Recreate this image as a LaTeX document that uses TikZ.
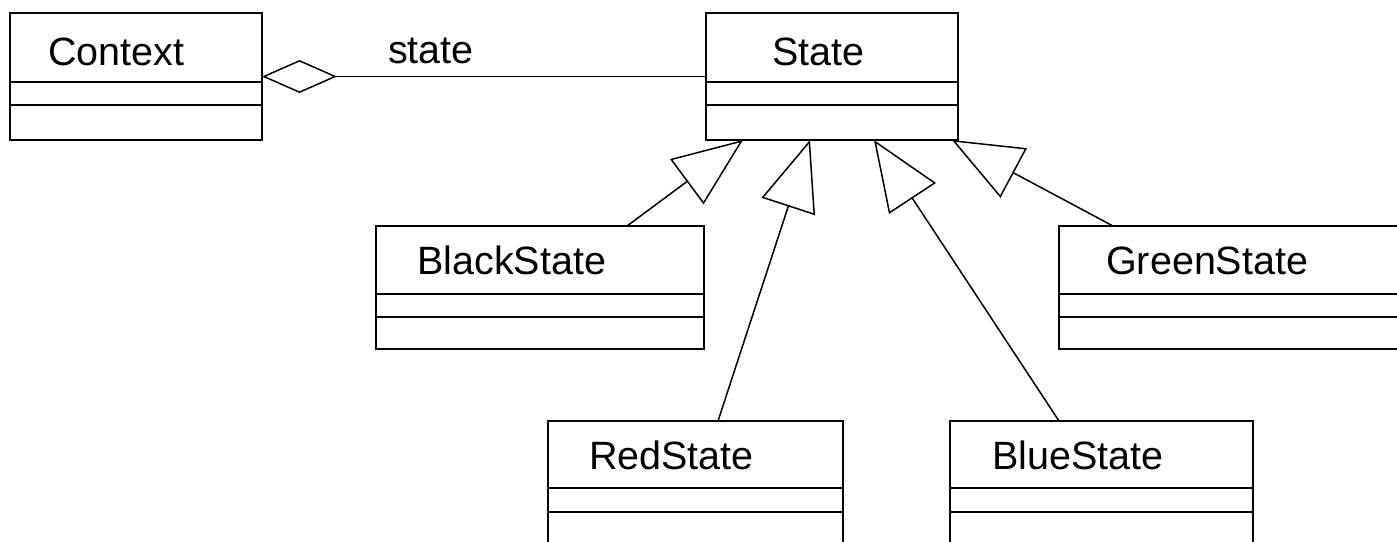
\documentclass[tikz,border=0pt]{standalone}
\usepackage{fontspec}
\setmainfont{Liberation Sans}
\usetikzlibrary{arrows.meta}
\begin{document}
\begin{tikzpicture}[x=1pt,y=-1pt,
  umlbox/.style={draw, line width=2pt, inner sep=0pt, outer sep=0pt, anchor=north west},
  sepline/.style={line width=2pt},
  lbl/.style={anchor=base west, inner sep=0pt, font=\fontsize{39.5}{40}\selectfont},
  conn/.style={line width=1.5pt},
  gen/.style={conn, -{Triangle[open, length=70pt, width=56pt]}},
  agg/.style={conn, {Diamond[open, length=75pt, width=33pt]}-}]
\useasboundingbox (0,0) rectangle (1397,541);
\fill[white] (0,0) rectangle (1397,541);
\begin{scope}
\clip (0,0) rectangle (1397,541);
% boxes
\node[umlbox, minimum width=252pt, minimum height=127pt] (ctx) at (10,13) {};
\node[umlbox, minimum width=252pt, minimum height=127pt] (state) at (706,13) {};
\node[umlbox, minimum width=328pt, minimum height=123pt] (black) at (376,226) {};
\node[umlbox, minimum width=360pt, minimum height=123pt] (green) at (1059,226) {};
\node[umlbox, minimum width=295pt, minimum height=128pt] (red) at (548,421) {};
\node[umlbox, minimum width=303pt, minimum height=128pt] (blue) at (950,421) {};
% compartments
\foreach \n/\a/\b in {ctx/69/92, state/69/92, black/68/91, green/68/91, red/67/91, blue/67/91}{
  \draw[sepline] ([yshift=-\a pt]\n.north west) -- ([yshift=-\a pt]\n.north east);
  \draw[sepline] ([yshift=-\b pt]\n.north west) -- ([yshift=-\b pt]\n.north east);
}
% labels
\node[lbl] (ctxlbl) at (48,65) {Context};
\node[lbl] (statelbl) at (772,65) {State};
\node[lbl] (rolelbl) at (388,63) {state};
\node[lbl] (blacklbl) at (417,274) {BlackState};
\node[lbl] (greenlbl) at (1106,274) {GreenState};
\node[lbl] (redlbl) at (589,469) {RedState};
\node[lbl] (bluelbl) at (992,469) {BlueState};
% connectors
\draw[agg] (ctx.east) -- (state.west);
\draw[gen] ([xshift=251pt]black.north west) -- ([xshift=37pt]state.south west);
\draw[gen] ([xshift=170pt]red.north west) -- ([xshift=104pt]state.south west);
\draw[gen] ([xshift=109pt]blue.north west) -- ([xshift=168pt]state.south west);
\draw[gen] ([xshift=54pt]green.north west) -- ([xshift=246pt]state.south west);
\end{scope}
\end{tikzpicture}
\end{document}
